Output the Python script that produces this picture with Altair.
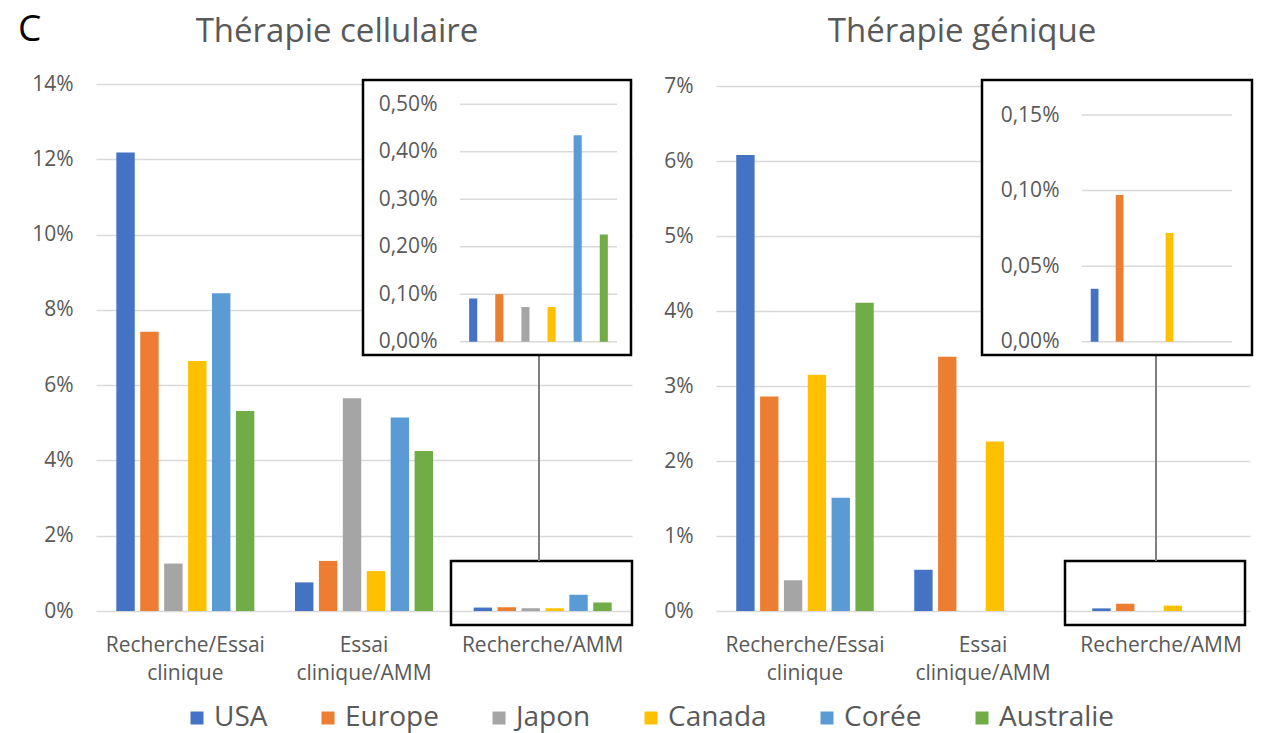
import json
import altair as alt
import pandas as pd

# ---------------- data ----------------
countries = ["USA", "Europe", "Japon", "Canada", "Corée", "Australie"]
colors = ["#4472C4", "#ED7D31", "#A5A5A5", "#FFC000", "#5B9BD5", "#70AD47"]
categories = ["Recherche/Essai clinique", "Essai clinique/AMM", "Recherche/AMM"]
category_lines = {
    "Recherche/Essai clinique": ["Recherche/Essai", "clinique"],
    "Essai clinique/AMM": ["Essai", "clinique/AMM"],
    "Recherche/AMM": ["Recherche/AMM"],
}

# values in percent
cell_rech_essai = [12.18, 7.42, 1.26, 6.64, 8.44, 5.31]
cell_essai_amm = [0.76, 1.33, 5.65, 1.06, 5.14, 4.25]
cell_rech_amm = [0.091, 0.100, 0.073, 0.073, 0.435, 0.226]

gene_rech_essai = [6.08, 2.86, 0.41, 3.15, 1.51, 4.11]
gene_essai_amm = [0.55, 3.39, 0.0, 2.26, 0.0, 0.0]
gene_rech_amm = [0.035, 0.097, 0.0, 0.072, 0.0, 0.0]

cell_ticks = [0, 2, 4, 6, 8, 10, 12, 14]
gene_ticks = [0, 1, 2, 3, 4, 5, 6, 7]
cell_inset_ticks = [0.0, 0.1, 0.2, 0.3, 0.4, 0.5]
gene_inset_ticks = [0.0, 0.05, 0.10, 0.15]

title_cell = "Thérapie cellulaire"
title_gene = "Thérapie génique"
panel_letter = "C"


def long_df(series_by_cat):
    rows = []
    for cat, vals in zip(categories, series_by_cat):
        for c, v in zip(countries, vals):
            rows.append({"category": cat, "country": c, "value": v})
    return pd.DataFrame(rows)


cell_df = long_df([cell_rech_essai, cell_essai_amm, cell_rech_amm])
gene_df = long_df([gene_rech_essai, gene_essai_amm, gene_rech_amm])

# ---------------- style ----------------
W, H = 1261, 733
FONT = "Open Sans"
TXT = "#595959"
GRID = "#D9D9D9"

label_expr = ""
for cat, lines in category_lines.items():
    if len(lines) > 1:
        label_expr += f"datum.value == {json.dumps(cat)} ? {json.dumps(lines)} : "
label_expr += "datum.value"

color_enc = alt.Color(
    "country:N",
    sort=countries,
    scale=alt.Scale(domain=countries, range=colors),
    legend=alt.Legend(
        title=None, orient="none", legendX=183, legendY=704, direction="horizontal",
        symbolType="square", symbolSize=169, symbolStrokeWidth=0, labelFontSize=28,
        labelFont=FONT, labelColor=TXT, columnPadding=46, labelOffset=3, padding=0,
    ),
)

one = pd.DataFrame({"k": [0]})


def main_bars(df, x0, x1, yb, yt, ymax, ticks):
    return alt.Chart(df).mark_bar().encode(
        x=alt.X(
            "category:N", sort=categories,
            scale=alt.Scale(domain=categories, range=[x0, x1], paddingInner=0, paddingOuter=0),
            axis=alt.Axis(
                title=None, orient="bottom", offset=-(H - yb), labelExpr=label_expr,
                labelAngle=0, domain=False, ticks=False, tickSize=0, labelPadding=23,
                labelLineHeight=28, labelFontSize=21, labelFont=FONT, labelColor=TXT,
            ),
        ),
        xOffset=alt.XOffset(
            "country:N", sort=countries,
            scale=alt.Scale(domain=countries, paddingInner=0.23, paddingOuter=0.85),
        ),
        y=alt.Y(
            "value:Q",
            scale=alt.Scale(domain=[0, ymax], range=[yb, yt], nice=False),
            axis=alt.Axis(
                title=None, orient="left", offset=-x0, values=ticks,
                labelExpr="datum.value + '%'", grid=True, gridColor=GRID, gridWidth=1.5,
                domain=False, ticks=False, tickSize=0, labelPadding=23,
                labelFontSize=21, labelFont=FONT, labelColor=TXT,
            ),
        ),
        color=color_enc,
    )


def inset(df, x0, x1, yb, yt, ymax, ticks):
    ysc = alt.Scale(domain=[0, ymax], range=[yb, yt], nice=False)
    yax = alt.Axis(
        title=None, orient="left", offset=-x0, values=ticks,
        labelExpr="replace(format(datum.value, '.2f'), '.', ',') + '%'",
        grid=False, domain=False, ticks=False, tickSize=0, labelPadding=23,
        labelFontSize=21, labelFont=FONT, labelColor=TXT, zindex=1,
    )
    grid = alt.Chart(pd.DataFrame({"value": ticks})).mark_rule(
        color=GRID, strokeWidth=1.5
    ).encode(y=alt.Y("value:Q", scale=ysc, axis=yax), x=alt.value(x0), x2=alt.value(x1))
    bars = alt.Chart(df[df.category == "Recherche/AMM"]).mark_bar().encode(
        x=alt.X(
            "country:N", sort=countries,
            scale=alt.Scale(domain=countries, range=[x0, x1], paddingInner=0.69, paddingOuter=0.35),
            axis=None,
        ),
        y=alt.Y("value:Q", scale=ysc, axis=yax),
        color=color_enc,
    )
    return alt.layer(grid, bars)


def box(x0, x1, y0, y1, fill):
    return alt.Chart(one).mark_rect(fill=fill, stroke="black", strokeWidth=2.5).encode(
        x=alt.value(x0), x2=alt.value(x1), y=alt.value(y0), y2=alt.value(y1)
    )


def connector(x, y0, y1):
    return alt.Chart(one).mark_rule(color="#7F7F7F", strokeWidth=2).encode(
        x=alt.value(x), y=alt.value(y0), y2=alt.value(y1)
    )


def text(t, x, y, size, color, align):
    return alt.Chart(pd.DataFrame({"t": [t]})).mark_text(
        font=FONT, fontSize=size, color=color, align=align, baseline="alphabetic"
    ).encode(x=alt.value(x), y=alt.value(y), text="t:N")


layers = [
    main_bars(cell_df, 96, 632, 611, 84, 14, cell_ticks),
    box(451, 632, 561, 625, "transparent"),
    connector(539, 355, 561),
    box(363, 631, 80, 355, "white"),
    inset(cell_df, 460, 617, 341.7, 104.3, 0.5, cell_inset_ticks),
    main_bars(gene_df, 716, 1250, 611, 86, 7, gene_ticks),
    box(1065, 1245, 561, 625, "transparent"),
    connector(1156, 355, 561),
    box(982, 1252, 80, 355, "white"),
    inset(gene_df, 1082, 1232, 341.7, 115, 0.15, gene_inset_ticks),
    text(title_cell, 337, 42, 33, TXT, "center"),
    text(title_gene, 962, 42, 33, TXT, "center"),
    text(panel_letter, 18, 41, 37, "black", "left"),
]

chart = alt.layer(*layers).resolve_scale(
    x="independent", y="independent", xOffset="independent"
).properties(
    width=W, height=H, padding=0, autosize=alt.AutoSizeParams(type="none"),
    background="white",
).configure_view(stroke=None)

chart.save("out.html", embed_options={"renderer": "svg", "actions": False})
